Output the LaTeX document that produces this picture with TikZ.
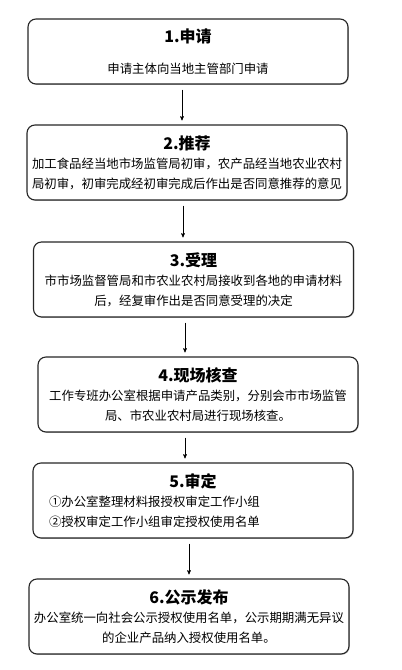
\documentclass[tikz,border=0pt]{standalone}
\usepackage{fontspec}
\setmainfont{Noto Sans CJK SC}
\usepackage{tikz}
\usetikzlibrary{arrows,shadows}

\newcommand{\steptitle}[1]{{\fontsize{16pt}{20pt}\selectfont\bfseries #1}}

\tikzset{
  stepbox/.style={draw=black!85, line width=1.1pt, rounded corners=8pt, fill=white,
                  drop shadow={shadow xshift=0.8pt, shadow yshift=-0.8pt, opacity=0.5, fill=gray},
                  minimum width=320pt, minimum height=75pt, inner sep=0pt,
                  align=center, font=\fontsize{12.4pt}{19.5pt}\selectfont}
}

\begin{document}
\begin{tikzpicture}[->,>=stealth',shorten >=4pt,shorten <=5pt,x=1pt,y=-1pt,
                    semithick]
  \useasboundingbox (0,0) rectangle (402,670);

  \node[stepbox,minimum height=65pt] (A) at (188,51.5)
    {\steptitle{1.申请}\\[12pt]
     申请主体向当地主管部门申请};
  \node[stepbox] (B) at (187,162.5)
    {\steptitle{2.推荐}\\
     加工食品经当地市场监管局初审，农产品经当地农业农村\\
     局初审，初审完成经初审完成后作出是否同意推荐的意见};
  \node[stepbox] (C) at (193.5,279.5)
    {\steptitle{3.受理}\\
     市市场监督管局和市农业农村局接收到各地的申请材料\\
     后，经复审作出是否同意受理的决定};
  \node[stepbox] (D) at (198,394.5)
    {\steptitle{4.现场核查}\\
     工作专班办公室根据申请产品类别，分别会市市场监管\\
     局、市农业农村局进行现场核查。};
  \node[stepbox,align=left,text width=288pt] (E) at (193,500.5)
    {{\centering\steptitle{5.审定}\par}
     ①办公室整理材料报授权审定工作小组\\
     ②授权审定工作小组审定授权使用名单};
  \node[stepbox] (F) at (189,616.5)
    {\steptitle{6.公示发布}\\
     办公室统一向社会公示授权使用名单，公示期期满无异议\\
     的企业产品纳入授权使用名单。};

  % arrows between the steps
  \draw ([xshift=-6pt]A.south) -- ([xshift=-6pt]A.south |- B.north);
  \draw ([xshift=-4pt]B.south) -- ([xshift=-4pt]B.south |- C.north);
  \draw ([xshift=-8.5pt]C.south) -- ([xshift=-8.5pt]C.south |- D.north);
  \draw ([xshift=-13pt]D.south) -- ([xshift=-13pt]D.south |- E.north);
  \draw ([xshift=-4pt]E.south) -- ([xshift=-4pt]E.south |- F.north);
\end{tikzpicture}
\end{document}
